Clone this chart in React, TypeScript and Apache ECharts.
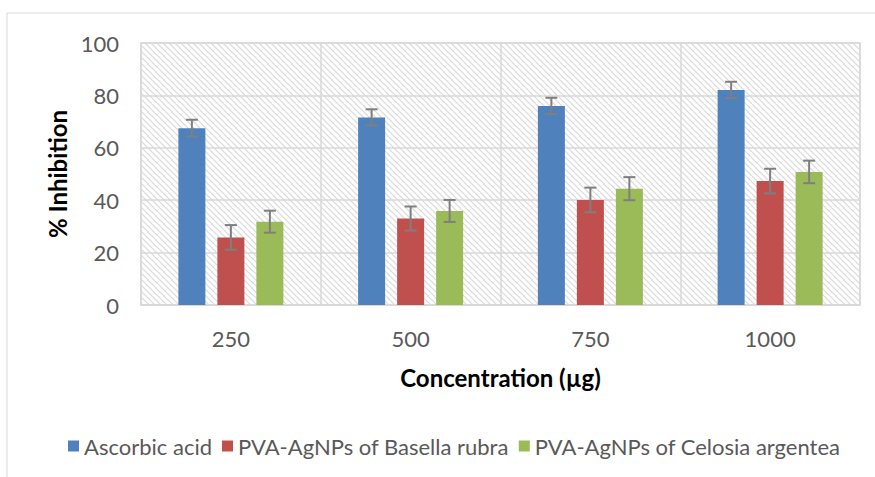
import React, { useEffect, useRef } from "react";
import * as echarts from "echarts";

const categories = ["250", "500", "750", "1000"];
const seriesNames = [
  "Ascorbic acid",
  "PVA-AgNPs of Basella rubra",
  "PVA-AgNPs of Celosia argentea",
];
const ascorbic = [67.5, 71.6, 76.0, 82.1];
const ascorbicErr = [3.2, 3.1, 3.1, 3.1];
const basella = [25.8, 33.0, 40.1, 47.3];
const basellaErr = [4.7, 4.6, 4.7, 4.7];
const celosia = [31.8, 35.9, 44.4, 50.8];
const celosiaErr = [4.2, 4.2, 4.4, 4.3];
const yTicks = [0, 20, 40, 60, 80, 100];

const COLORS = ["#4f81bd", "#c0504d", "#9bbb59"];
const BAR_W = 27;
const BAR_GAP = 12;
const FONT = "Lato, 'Open Sans', sans-serif";

function hatchTile(): HTMLCanvasElement {
  const c = document.createElement("canvas");
  c.width = 6;
  c.height = 6;
  const g = c.getContext("2d")!;
  g.fillStyle = "#ffffff";
  g.fillRect(0, 0, 6, 6);
  g.strokeStyle = "#d9d9d9";
  g.lineWidth = 1.2;
  g.beginPath();
  g.moveTo(-1, -1);
  g.lineTo(7, 7);
  g.moveTo(-1, 5);
  g.lineTo(1, 7);
  g.moveTo(5, -1);
  g.lineTo(7, 1);
  g.stroke();
  return c;
}

function errorSeries(values: number[], errs: number[], offset: number) {
  return {
    type: "custom",
    z: 5,
    silent: true,
    data: values.map((v, i) => [i, v - errs[i], v + errs[i]]),
    encode: { x: 0, y: [1, 2] },
    renderItem: (params: any, api: any) => {
      const lo = api.coord([api.value(0), api.value(1)]);
      const hi = api.coord([api.value(0), api.value(2)]);
      const x = lo[0] + offset;
      const style = { stroke: "#7f7f7f", lineWidth: 2 };
      const cap = 6;
      return {
        type: "group",
        children: [
          { type: "line", shape: { x1: x, y1: lo[1], x2: x, y2: hi[1] }, style },
          { type: "line", shape: { x1: x - cap, y1: hi[1], x2: x + cap, y2: hi[1] }, style },
          { type: "line", shape: { x1: x - cap, y1: lo[1], x2: x + cap, y2: lo[1] }, style },
        ],
      };
    },
  };
}

export default function App() {
  const ref = useRef<HTMLDivElement>(null);

  useEffect(() => {
    document.body.style.margin = "0";
    const chart = echarts.init(ref.current!, null, { renderer: "svg" });
    const step = BAR_W + BAR_GAP;
    const tile = hatchTile();

    chart.setOption({
      animation: false,
      backgroundColor: "#ffffff",
      textStyle: { fontFamily: FONT },
      graphic: [
        {
          type: "rect",
          shape: { x: 7, y: 13, width: 900, height: 500 },
          style: { fill: "none", stroke: "#d9d9d9", lineWidth: 1 },
          silent: true,
        },
      ],
      grid: {
        left: 141,
        top: 43,
        width: 719,
        height: 262,
        show: true,
        backgroundColor: {
          image: tile,
          repeat: "repeat",
          imageWidth: 6,
          imageHeight: 6,
        },
        borderColor: "#d9d9d9",
        borderWidth: 1.5,
      },
      legend: {
        data: seriesNames,
        top: 430,
        left: 63,
        itemWidth: 11,
        itemHeight: 11,
        itemGap: 10,
        icon: "rect",
        textStyle: { fontFamily: FONT, fontSize: 22, color: "#595959" },
      },
      xAxis: {
        type: "category",
        data: categories,
        name: "Concentration (µg)",
        nameLocation: "middle",
        nameGap: 60,
        nameTextStyle: { fontFamily: FONT, fontSize: 24, fontWeight: "bold", color: "#000" },
        axisLine: { lineStyle: { color: "#d9d9d9", width: 1.5 } },
        axisTick: { show: false },
        axisLabel: { fontFamily: FONT, fontSize: 22, color: "#595959", margin: 22 },
        splitLine: { show: true, lineStyle: { color: "#d9d9d9", width: 1.5 } },
      },
      yAxis: {
        type: "value",
        min: yTicks[0],
        max: yTicks[yTicks.length - 1],
        interval: 20,
        name: "% Inhibition",
        nameLocation: "middle",
        nameGap: 67,
        nameTextStyle: { fontFamily: FONT, fontSize: 24, fontWeight: "bold", color: "#000" },
        axisLine: { show: false },
        axisTick: { show: false },
        axisLabel: { fontFamily: FONT, fontSize: 22, color: "#595959", margin: 22 },
        splitLine: { show: true, lineStyle: { color: "#d9d9d9", width: 1.5 } },
      },
      series: [
        { name: seriesNames[0], type: "bar", data: ascorbic, barWidth: BAR_W, barGap: `${(BAR_GAP / BAR_W) * 100}%`, itemStyle: { color: COLORS[0] } },
        { name: seriesNames[1], type: "bar", data: basella, barWidth: BAR_W, barGap: `${(BAR_GAP / BAR_W) * 100}%`, itemStyle: { color: COLORS[1] } },
        { name: seriesNames[2], type: "bar", data: celosia, barWidth: BAR_W, barGap: `${(BAR_GAP / BAR_W) * 100}%`, itemStyle: { color: COLORS[2] } },
        errorSeries(ascorbic, ascorbicErr, -step),
        errorSeries(basella, basellaErr, 0),
        errorSeries(celosia, celosiaErr, step),
      ],
    });
    return () => chart.dispose();
  }, []);

  return (
    <div
      ref={ref}
      style={{ position: "fixed", left: 0, top: 0, width: 875, height: 477 }}
    />
  );
}
